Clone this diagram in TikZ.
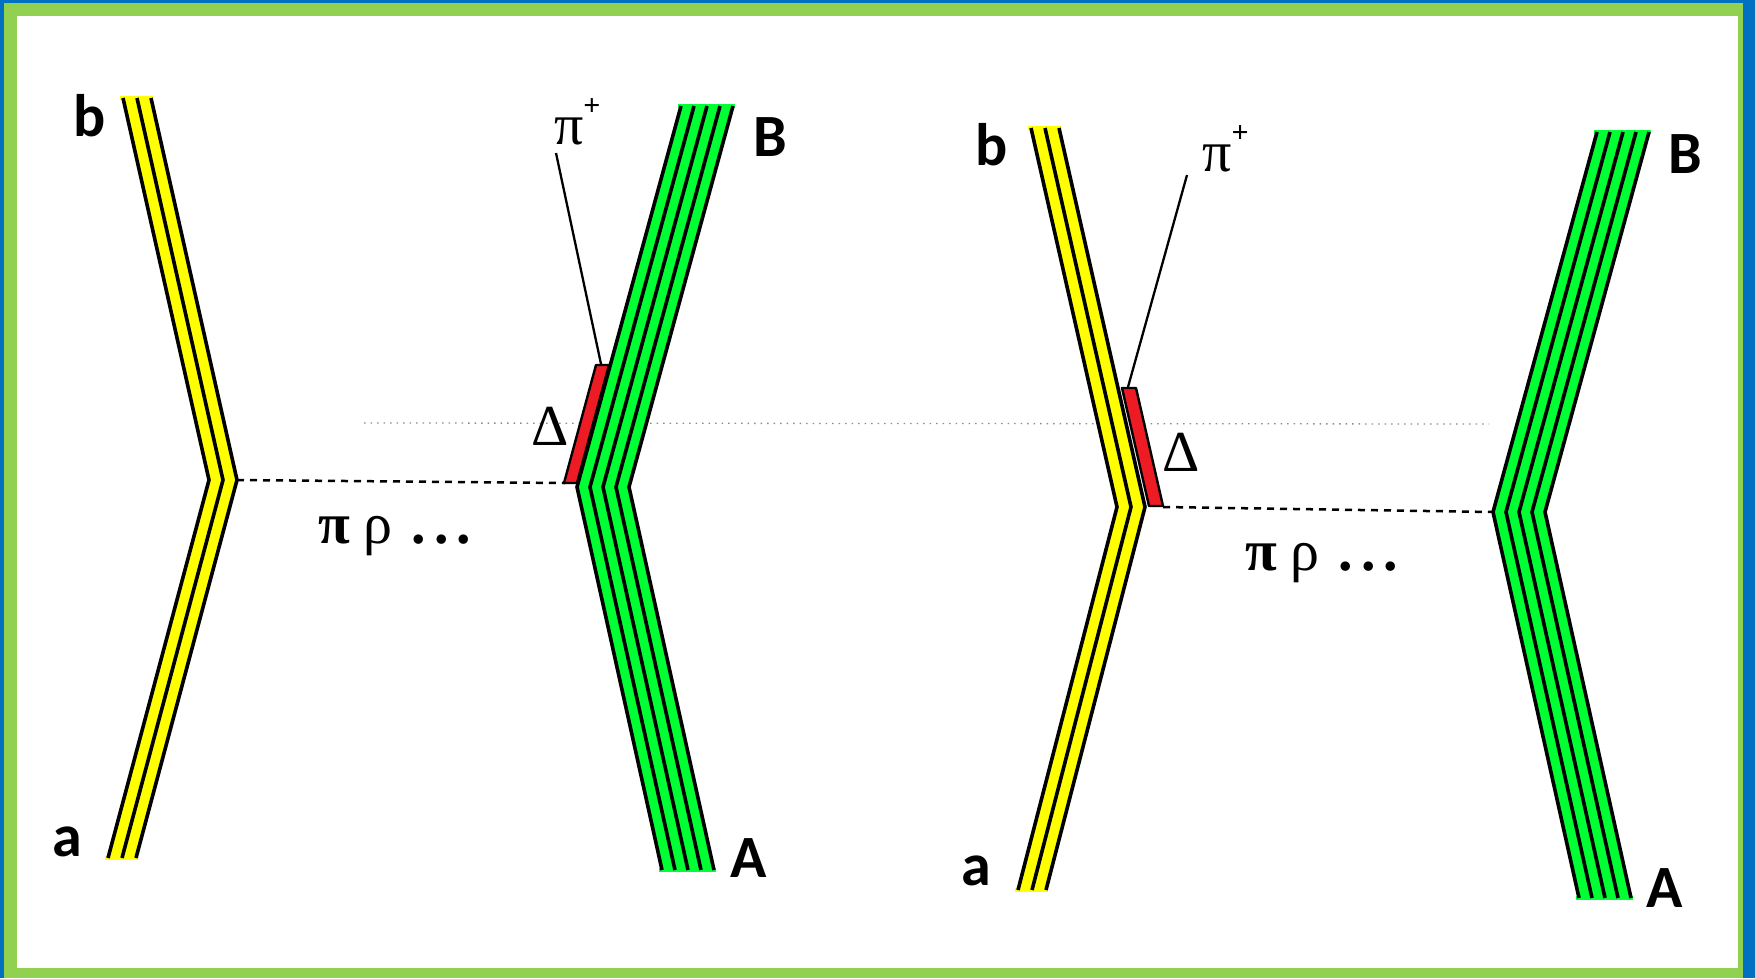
\documentclass[tikz,border=0pt]{standalone}
\usepackage{fontspec}
\usetikzlibrary{calc}
\newfontfamily\labfont{Carlito}
\newfontfamily\grkfont{Liberation Serif}
\definecolor{frameblue}{RGB}{0,112,192}
\definecolor{framegreen}{RGB}{146,208,80}
\definecolor{qyellow}{RGB}{255,255,0}
\definecolor{qgreen}{RGB}{0,255,51}
\definecolor{qred}{RGB}{237,28,36}
\tikzset{
  qline/.style={black, line width=3.6pt, line join=miter},
  capline/.style={line width=4pt},
  pionline/.style={black, line width=2.3pt},
  exchline/.style={black, line width=2.5pt, dash pattern=on 7pt off 6pt},
  faintline/.style={black!45, line width=1.3pt, dash pattern=on 1.5pt off 5pt},
  deltabox/.style={fill=qred, draw=black, line width=2.4pt, line join=round},
  lab/.style={inner sep=0pt, font=\labfont\bfseries\fontsize{60}{60}\selectfont},
  grk/.style={inner sep=0pt, font=\grkfont\fontsize{58}{58}\selectfont},
  grkbig/.style={inner sep=0pt, font=\grkfont\fontsize{58}{58}\selectfont}
}
\newcommand{\mybundle}[6]{% #1 top, #2 vertex, #3 bottom, #4 colour, #5 half width, #6 offsets
  \fill[#4] ($(#1)+(-#5,0)$) -- ($(#2)+(-#5,0)$) -- ($(#3)+(-#5,0)$) -- ($(#3)+(#5,0)$) -- ($(#2)+(#5,0)$) -- ($(#1)+(#5,0)$) -- cycle;
  \draw[#4, capline] ($(#1)+(-#5-3,0)$) -- ($(#1)+(#5+2,0)$);
  \draw[#4, capline] ($(#3)+(-#5-3,0)$) -- ($(#3)+(#5+2,0)$);
  \foreach \o in {#6} \draw[qline] ($(#1)+(\o,0)$) -- ($(#2)+(\o,0)$) -- ($(#3)+(\o,0)$);
}
\newcommand{\pitext}{π\raisebox{0.5em}{\fontsize{30}{30}\selectfont\bfseries +}}
\newcommand{\prtext}{{\bfseries π}\hspace{14pt}ρ\hspace{19pt}{\bfseries .\hspace{8pt}.\hspace{8pt}.}}
\begin{document}
\begin{tikzpicture}[x=1pt,y=-1pt]
\useasboundingbox (0,0) rectangle (1755,978);
% frame
\fill[frameblue] (0,0) rectangle (1755,978);
\fill[framegreen] (4,3) rectangle (1743,978);
\fill[white] (17,16) rectangle (1738,968);

% faint dotted guide line
\coordinate (fa) at (364,423);
\coordinate (fb) at (1489,424);
\draw[faintline] (fa) -- (fb);

% ---------- left diagram ----------
\coordinate (yLt) at (137,98);
\coordinate (yLv) at (223,480);
\coordinate (yLb) at (122,858);
\coordinate (gLt) at (707,106);
\coordinate (gLv) at (603,487);
\coordinate (gLb) at (688,870);

\mybundle{yLt}{yLv}{yLb}{qyellow}{14}{-14,0,14}
\mybundle{gLt}{gLv}{gLb}{qgreen}{26}{-26,-13,0,13,26}

% Delta (left)
\coordinate (rL1) at (596,365);
\coordinate (rL2) at (609,365);
\coordinate (rL3) at (577,483);
\coordinate (rL4) at (564,483);
\draw[deltabox] (rL1) -- (rL2) -- (rL3) -- (rL4) -- cycle;
\coordinate (rLtop) at (601,364);
\coordinate (piLend) at (556,153);
\draw[pionline] (piLend) -- (rLtop);

% exchange (left)
\coordinate (dL1) at (237,480);
\coordinate (dL2) at (565,483);
\draw[exchline] (dL1) -- (dL2);

\node[lab] (lb) at (90,116) {b};
\node[lab] (lB) at (770,137) {B};
\node[lab] (la) at (67,842) {a};
\node[lab] (lA) at (749,858) {A};
\node[grk, anchor=base west] (lpi) at (554,144) {\pitext};
\node[grk] (lDelta) at (550,426) {Δ};
\node[grkbig, anchor=base west] (lpr) at (318,543) {\prtext};

% ---------- right diagram ----------
\coordinate (yRt) at (1045,128);
\coordinate (yRv) at (1131,507);
\coordinate (yRb) at (1032,890);
\coordinate (gRt) at (1623,132);
\coordinate (gRv) at (1519,512);
\coordinate (gRb) at (1605,898);

\mybundle{yRt}{yRv}{yRb}{qyellow}{14}{-14,0,14}
\mybundle{gRt}{gRv}{gRb}{qgreen}{26}{-26,-13,0,13,26}

% Delta (right)
\coordinate (rR1) at (1122,388);
\coordinate (rR2) at (1136,388);
\coordinate (rR3) at (1163,506);
\coordinate (rR4) at (1149,506);
\draw[deltabox] (rR1) -- (rR2) -- (rR3) -- (rR4) -- cycle;
\coordinate (rRtop) at (1128,387);
\coordinate (piRend) at (1187,175);
\draw[pionline] (piRend) -- (rRtop);

% exchange (right)
\coordinate (dR1) at (1163,507);
\coordinate (dR2) at (1493,512);
\draw[exchline] (dR1) -- (dR2);

\node[lab] (rb) at (992,145) {b};
\node[lab] (rB) at (1685,154) {B};
\node[lab] (ra) at (976,871) {a};
\node[lab] (rA) at (1665,888) {A};
\node[grk, anchor=base west] (rpi) at (1202,171) {\pitext};
\node[grk] (rDelta) at (1181,452) {Δ};
\node[grkbig, anchor=base west] (rpr) at (1245,570) {\prtext};
\end{tikzpicture}
\end{document}
